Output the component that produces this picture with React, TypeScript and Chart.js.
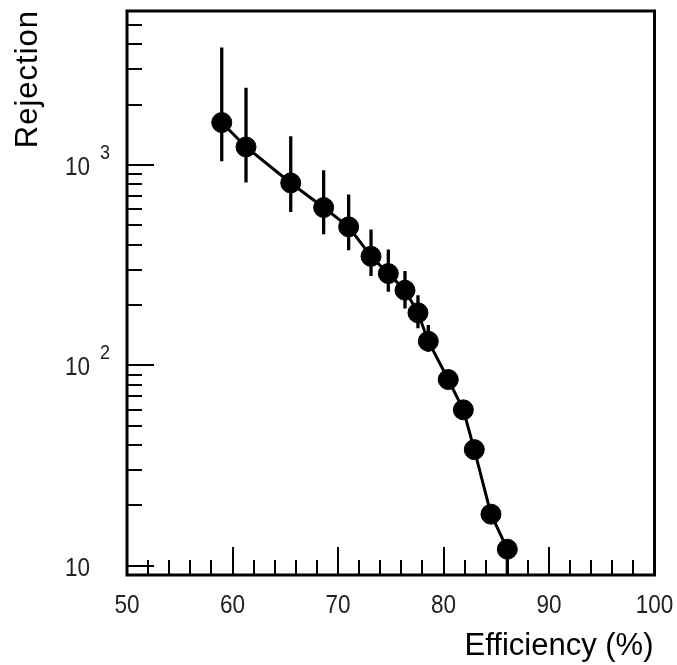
import React, { useEffect, useRef } from "react";
import { Chart, registerables } from "chart.js";

Chart.register(...registerables);

// Data
const efficiency = [58.98, 61.28, 65.52, 68.64, 71.01, 73.13, 74.77, 76.35, 77.58, 78.56, 80.45, 81.88, 82.92, 84.5, 86.05];
const rejection = [1627, 1229, 813, 613, 491, 350, 287, 237, 183, 132, 85, 60, 38, 18.1, 12.1];
const rejectionHigh = [3850, 2430, 1390, 940, 712, 476, 378, 296, 224, 159, 92, 65, 41, 19.5, 13.2];
const rejectionLow = [1043, 817, 583, 451, 375, 279, 233, 192, 153, 117, 78, 55, 35, 16.7, 8];

const xTickValues = [50, 60, 70, 80, 90, 100];
const xTickLabels = ["50", "60", "70", "80", "90", "100"];
const yTickValues = [10, 100, 1000];
const yTickBase = ["10", "10", "10"];
const yTickExp = ["", "2", "3"];

const xTitle = "Efficiency (%)";
const yTitle = "Rejection";

const X_MIN = 50;
const X_MAX = 100;
const Y_MIN = 9;
const Y_MAX = 5860;

const FONT = "'Liberation Sans', Arial, sans-serif";

function narrowText(ctx: any, text: string, x: number, y: number, size: number, align: string, sx: number) {
  ctx.save();
  ctx.font = `${size}px ${FONT}`;
  ctx.textAlign = align;
  ctx.translate(x, y);
  ctx.scale(sx, 1);
  ctx.fillText(text, 0, 0);
  ctx.restore();
}

const errorBarPlugin = {
  id: "errorBars",
  beforeDatasetsDraw(chart: any) {
    const { ctx, chartArea, scales } = chart;
    const xs = scales.x;
    const ys = scales.y;
    ctx.save();
    ctx.beginPath();
    ctx.rect(chartArea.left, chartArea.top, chartArea.right - chartArea.left, chartArea.bottom - chartArea.top);
    ctx.clip();
    ctx.strokeStyle = "#000";
    ctx.lineWidth = 3.3;
    for (let i = 0; i < efficiency.length; i++) {
      const px = xs.getPixelForValue(efficiency[i]);
      const y1 = ys.getPixelForValue(rejectionHigh[i]);
      const y2 = ys.getPixelForValue(rejectionLow[i]);
      ctx.beginPath();
      ctx.moveTo(px, y1);
      ctx.lineTo(px, y2);
      ctx.stroke();
    }
    ctx.restore();
  },
};

const framePlugin = {
  id: "rootFrame",
  afterDraw(chart: any) {
    const { ctx, chartArea, scales } = chart;
    const xs = scales.x;
    const ys = scales.y;
    const { left, right, top, bottom } = chartArea;
    ctx.save();
    ctx.strokeStyle = "#000";
    ctx.lineWidth = 2;
    // x ticks
    for (let v = X_MIN; v <= X_MAX; v += 2) {
      const px = Math.round(xs.getPixelForValue(v));
      const major = v % 10 === 0;
      const len = major ? 28 : 15;
      ctx.beginPath();
      ctx.moveTo(px, bottom);
      ctx.lineTo(px, bottom - len);
      ctx.stroke();
    }
    // y ticks
    for (let d = 1; d <= 1000; d *= 10) {
      for (let k = 1; k <= 9; k++) {
        const v = k * d;
        if (v < Y_MIN || v > Y_MAX) continue;
        const py = Math.round(ys.getPixelForValue(v));
        const len = k === 1 ? 27 : 15;
        ctx.beginPath();
        ctx.moveTo(left, py);
        ctx.lineTo(left + len, py);
        ctx.stroke();
      }
    }
    // frame
    ctx.lineWidth = 3;
    ctx.strokeRect(left, top, right - left, bottom - top);

    // tick labels
    ctx.fillStyle = "#222";
    ctx.textBaseline = "alphabetic";
    xTickValues.forEach((v, i) => {
      const px = xs.getPixelForValue(v);
      narrowText(ctx, xTickLabels[i], px, bottom + 38, 25, "center", 0.9);
    });
    yTickValues.forEach((v, i) => {
      const py = ys.getPixelForValue(v);
      narrowText(ctx, yTickBase[i], left - 37, py + 10, 25, "right", 0.9);
      if (yTickExp[i]) {
        narrowText(ctx, yTickExp[i], left - 27, py - 6, 20, "left", 0.9);
      }
    });

    // axis titles
    ctx.fillStyle = "#000";
    ctx.font = `31px ${FONT}`;
    ctx.textAlign = "right";
    ctx.fillText(xTitle, right - 1, 655);

    ctx.save();
    ctx.translate(37, top - 1);
    ctx.rotate(-Math.PI / 2);
    ctx.font = `31px ${FONT}`;
    try {
      (ctx as any).letterSpacing = "1px";
    } catch (e) {}
    ctx.textAlign = "right";
    ctx.fillText(yTitle, 0, 0);
    ctx.restore();

    ctx.restore();
  },
};

export default function App() {
  const canvasRef = useRef<HTMLCanvasElement | null>(null);

  useEffect(() => {
    if (!canvasRef.current) return;
    const chart = new Chart(canvasRef.current, {
      type: "scatter",
      data: {
        datasets: [
          {
            label: "Rejection",
            data: efficiency.map((x, i) => ({ x, y: rejection[i] })),
            showLine: true,
            borderColor: "#000",
            borderWidth: 3,
            backgroundColor: "#000",
            pointBackgroundColor: "#000",
            pointBorderColor: "#000",
            pointBorderWidth: 1,
            pointRadius: 10,
            tension: 0,
          },
        ],
      },
      options: {
        responsive: false,
        animation: false,
        devicePixelRatio: 1,
        layout: { padding: { left: 127, right: 22.5, top: 10.7, bottom: 90 } },
        plugins: {
          legend: { display: false },
          tooltip: { enabled: false },
        },
        scales: {
          x: { type: "linear", min: X_MIN, max: X_MAX, display: false },
          y: { type: "logarithmic", min: Y_MIN, max: Y_MAX, display: false },
        },
      },
      plugins: [errorBarPlugin, framePlugin],
    });
    return () => chart.destroy();
  }, []);

  return (
    <div style={{ position: "absolute", left: 0, top: 0, width: 677, height: 665, background: "#fff" }}>
      <canvas ref={canvasRef} width={677} height={665} style={{ display: "block" }} />
    </div>
  );
}
